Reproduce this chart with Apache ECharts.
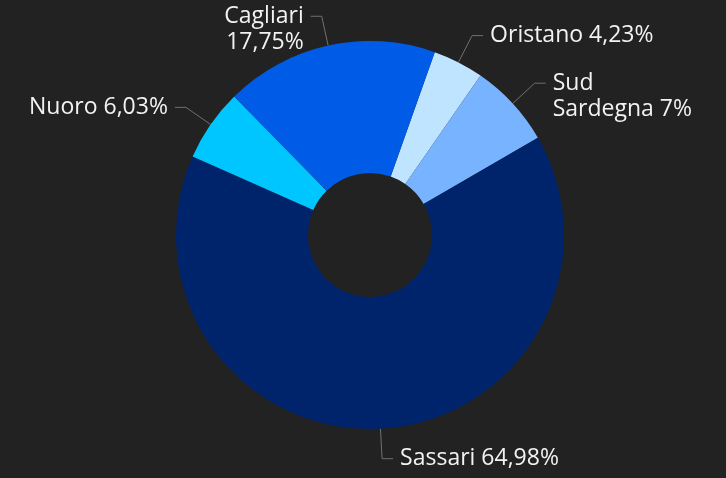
<!DOCTYPE html>
<html>
<head>
<meta charset="utf-8">
<script src="https://cdn.jsdelivr.net/npm/echarts@6/dist/echarts.min.js"></script>
<style>
html,body{margin:0;padding:0;background:#222222;}
#c{width:726px;height:478px;}
</style>
</head>
<body>
<div id="c"></div>
<script>
const categories = ['Oristano', 'Sud Sardegna', 'Sassari', 'Nuoro', 'Cagliari'];
const values = [4.23, 7, 64.98, 6.03, 17.75];
const labelTemplates = ['Oristano {v}', 'Sud\nSardegna {v}', 'Sassari {v}', 'Nuoro {v}', 'Cagliari\n{v}'];
const colors = ['#bfe4ff', '#78b3ff', '#00246b', '#00c6ff', '#005ce6'];

const LH = 26;
const chart = echarts.init(document.getElementById('c'));
const data = categories.map((n, i) => ({
  name: n,
  value: values[i],
  itemStyle: { color: colors[i] }
}));
chart.setOption({
  backgroundColor: '#222222',
  series: [{
    type: 'pie',
    center: [370, 235],
    radius: [62, 194],
    startAngle: 70.5,
    clockwise: true,
    avoidLabelOverlap: false,
    data: data,
    label: {
      color: '#f2f2f2',
      fontFamily: 'Open Sans',
      fontSize: 23,
      lineHeight: LH,
      distanceToLabelLine: 7,
      formatter: p => labelTemplates[p.dataIndex].replace('{v}', String(p.value).replace('.', ',') + '%')
    },
    labelLine: {
      length: 30,
      length2: 11,
      lineStyle: { color: '#707070', width: 1 }
    },
    labelLayout: function (params) {
      const lines = labelTemplates[params.dataIndex].split('\n').length;
      return { hideOverlap: false, dy: (lines - 1) * LH / 2 };
    },
    emphasis: { disabled: true }
  }]
});
</script>
</body>
</html>
